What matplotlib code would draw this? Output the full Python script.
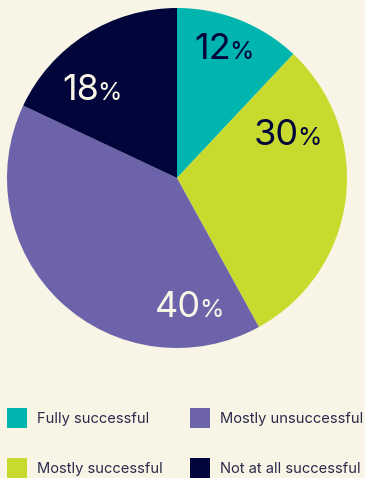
import matplotlib.pyplot as plt
from matplotlib.patches import Rectangle

# Survey result shares
categories = ['Fully successful', 'Mostly successful', 'Mostly unsuccessful', 'Not at all successful']
shares = [12, 30, 40, 18]
colors = ['#00b5ad', '#c9da2e', '#6c63ab', '#01053a']
label_colors = ['#01053a', '#01053a', '#f8f5e6', '#f8f5e6']
# where each percentage label sits (split point between number and %, baseline)
label_pos = [(0.318, 0.700), (0.718, 0.194), (0.141, -0.818), (-0.459, 0.459)]

bg = '#f8f5e6'
text_col = '#2b2a4c'
plt.rcParams['font.family'] = ['Inter', 'DejaVu Sans']

W, H = 365, 478
fig = plt.figure(figsize=(W / 100, H / 100), dpi=100, facecolor=bg)
ax = fig.add_axes([7 / W, 1 - 348 / H, 340 / W, 340 / H])
ax.set_facecolor(bg)

ax.pie(shares, colors=colors, startangle=90, counterclock=False, radius=1,
       wedgeprops=dict(linewidth=0))
ax.set_xlim(-1, 1)
ax.set_ylim(-1, 1)
ax.set_aspect('equal')
ax.axis('off')

for val, (x, y), c in zip(shares, label_pos, label_colors):
    ax.text(x, y, f'{val}', ha='right', va='baseline', fontsize=26, color=c)
    ax.annotate('%', (x, y), xytext=(-1.5, 0), textcoords='offset points',
                ha='left', va='baseline', fontsize=18, color=c)

# legend: two columns, swatch + label
col_x = [7, 190]
row_y = [408, 458]
sq = 20
for i, (name, c) in enumerate(zip(categories, colors)):
    x0 = col_x[i // 2]
    y0 = row_y[i % 2]
    fig.add_artist(Rectangle((x0 / W, 1 - (y0 + sq) / H), sq / W, sq / H,
                             transform=fig.transFigure, facecolor=c, edgecolor='none'))
    fig.text((x0 + 30) / W, 1 - (y0 + sq / 2 + 1) / H, name, ha='left', va='center',
             fontsize=10.6, color=text_col)

fig.savefig('out.png', dpi=100, facecolor=bg)
